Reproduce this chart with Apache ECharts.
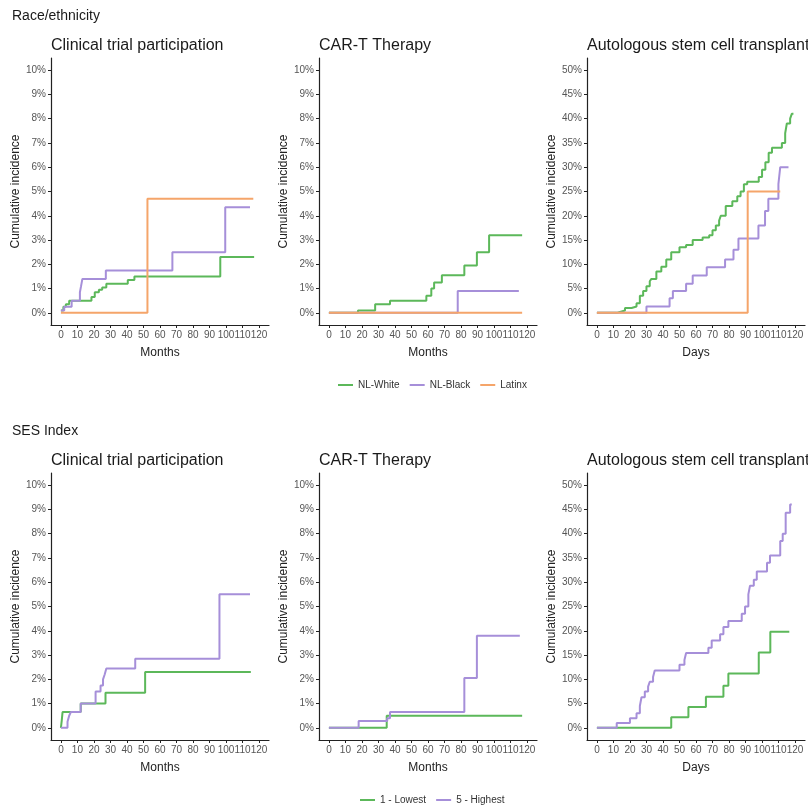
<!DOCTYPE html>
<html>
<head>
<meta charset="utf-8">
<script src="https://cdn.jsdelivr.net/npm/echarts@6/dist/echarts.min.js"></script>
<style>
    html, body { margin: 0; padding: 0; background: #fff; }
    #chart { width: 808px; height: 808px; }
</style>
</head>
<body>
<div id="chart"></div>
<script>
    // [time, cumulative incidence %] - value holds until the next time
    var raceTrialWhite = [[0, 0.1], [1.5, 0.25], [3, 0.35], [5, 0.5], [18.5, 0.65], [20.5, 0.85], [23, 0.95], [25, 1.05], [27.5, 1.2], [40.5, 1.35], [44.5, 1.5], [96.5, 2.3], [117, 2.3]];
    var raceTrialBlack = [[0, 0.1], [2, 0.25], [6.5, 0.5], [11.5, 0.85], [12.2, 1.1], [13, 1.4], [27.2, 1.75], [67.5, 2.5], [99.5, 4.35], [114.5, 4.35]];
    var raceTrialLatinx = [[0, 0], [52.4, 4.7], [116.5, 4.7]];

    var raceCarWhite = [[0, 0], [17.6, 0.1], [28, 0.35], [37, 0.5], [59, 0.7], [62, 1.0], [63.7, 1.25], [68.4, 1.55], [82, 1.95], [89.6, 2.5], [97, 3.2], [117, 3.2]];
    var raceCarBlack = [[0, 0], [78, 0.9], [115, 0.9]];
    var raceCarLatinx = [[0, 0], [117, 0]];

    var raceAsctWhite = [[0, 0], [12, 0.2], [14, 0.5], [17, 1.0], [21, 1.3], [24, 2.0], [26, 3.5], [28, 4.5], [30, 5.5], [32, 6.5], [33, 7], [36, 8.5], [39, 9.5], [42, 11], [45, 12.5], [50, 13.5], [54, 14], [58, 15], [64, 15.5], [68, 16], [70, 17], [72, 18], [74, 19], [75, 20], [78, 22], [82, 23], [85, 24], [87, 25], [89, 26.5], [91, 27], [98, 28], [100, 29.5], [102, 31], [104, 33], [106, 34], [112, 35], [114, 37], [115, 39], [117, 40], [118, 41], [119, 41]];
    var raceAsctBlack = [[0, 0], [30, 1.3], [44, 3], [46, 4.5], [54, 6], [58, 7.7], [66.5, 9.4], [77.6, 11], [82.7, 13], [85.7, 15.3], [97.8, 18], [101.8, 21], [103.8, 23.5], [109.9, 26.5], [111, 30], [116, 30]];
    var raceAsctLatinx = [[0, 0], [91.3, 25], [111, 25]];

    var sesTrialLow = [[0, 0], [0.5, 0.3], [1, 0.65], [12, 1.0], [27, 1.45], [51, 2.3], [115, 2.3]];
    var sesTrialHigh = [[0, 0], [4, 0.25], [5, 0.5], [6, 0.65], [12, 1.0], [21, 1.5], [24, 1.75], [25.5, 2.0], [26.5, 2.2], [27.5, 2.45], [45, 2.85], [96, 5.5], [114.5, 5.5]];

    var sesCarLow = [[0, 0], [35, 0.5], [117, 0.5]];
    var sesCarHigh = [[0, 0], [18, 0.28], [35.3, 0.4], [37, 0.65], [82, 2.05], [89.6, 3.8], [115.6, 3.8]];

    var sesAsctLow = [[0, 0], [45, 2.2], [55.4, 4.3], [66, 6.4], [76.6, 8.7], [79.6, 11.2], [98, 15.5], [105, 19.8], [116.5, 19.8]];
    var sesAsctHigh = [[0, 0], [12, 1], [20, 2], [24, 3], [26, 4.5], [27, 6.3], [29, 7.5], [31, 8.5], [32, 9.5], [34, 10.5], [35, 11.8], [50, 13], [53, 14], [54, 15.4], [67.5, 16.5], [69.5, 18], [74.6, 19.3], [76.6, 20.8], [79.6, 22], [87.7, 23.5], [89.7, 25], [91.7, 27.5], [92.7, 29.3], [95, 30.5], [96.8, 32.2], [103, 34], [104.8, 35.5], [111, 38.5], [112.5, 40], [114.3, 44.3], [117, 46], [118, 46]];

    var xTicks = [0, 10, 20, 30, 40, 50, 60, 70, 80, 90, 100, 110, 120];
    var yTicksSmall = [0, 1, 2, 3, 4, 5, 6, 7, 8, 9, 10];
    var yTicksLarge = [0, 5, 10, 15, 20, 25, 30, 35, 40, 45, 50];

    var panelTitles = ['Clinical trial participation', 'CAR-T Therapy', 'Autologous stem cell transplant'];
    var raceNames = ['NL-White', 'NL-Black', 'Latinx'];
    var sesNames = ['1 - Lowest', '5 - Highest'];

    var GREEN = '#5cb85a';
    var PURPLE = '#a68fd9';
    var ORANGE = '#f5a56a';
    var FONT = '"Liberation Sans", Arial, sans-serif';

    var lefts = [51, 319, 587];
    var tops = [58, 473];

    var grids = [], xAxes = [], yAxes = [], series = [], graphics = [];

    function axisBase() {
        return {
            type: 'value',
            splitLine: { show: false },
            axisLine: { show: true, onZero: false, lineStyle: { color: '#222', width: 1.2 } },
            axisTick: { show: true, length: 3, lineStyle: { color: '#222' } },
            axisLabel: { color: '#555', fontSize: 10, fontFamily: FONT },
            nameTextStyle: { color: '#222', fontSize: 12, fontFamily: FONT }
        };
    }

    function addPanel(row, col, xName, big) {
        var idx = grids.length;
        grids.push({ left: lefts[col], top: tops[row], width: 218, height: 267 });

        var xa = axisBase();
        xa.gridIndex = idx;
        xa.min = -6;
        xa.max = 126;
        xa.axisTick.customValues = xTicks;
        xa.axisLabel.customValues = xTicks;
        xa.axisLabel.margin = 5;
        xa.name = xName;
        xa.nameLocation = 'middle';
        xa.nameGap = 22;
        xAxes.push(xa);

        var ticks = big ? yTicksLarge : yTicksSmall;
        var top = big ? 50 : 10;
        var ya = axisBase();
        ya.gridIndex = idx;
        ya.min = -top * 0.05;
        ya.max = top * 1.05;
        ya.axisTick.customValues = ticks;
        ya.axisLabel.customValues = ticks;
        ya.axisLabel.formatter = '{value}%';
        ya.axisLabel.margin = 5;
        ya.name = 'Cumulative incidence';
        ya.nameLocation = 'middle';
        ya.nameGap = 25;
        yAxes.push(ya);

        graphics.push({
            type: 'text', left: lefts[col], top: tops[row] - 20,
            style: { text: panelTitles[col], font: '16px ' + FONT, fill: '#1a1a1a' }
        });
        return idx;
    }

    function addLine(idx, name, data, color) {
        series.push({
            name: name,
            type: 'line',
            step: 'end',
            xAxisIndex: idx,
            yAxisIndex: idx,
            showSymbol: false,
            symbol: 'none',
            data: data,
            lineStyle: { color: color, width: 2 },
            itemStyle: { color: color }
        });
    }

    var p;
    p = addPanel(0, 0, 'Months', false);
    addLine(p, raceNames[0], raceTrialWhite, GREEN);
    addLine(p, raceNames[1], raceTrialBlack, PURPLE);
    addLine(p, raceNames[2], raceTrialLatinx, ORANGE);

    p = addPanel(0, 1, 'Months', false);
    addLine(p, raceNames[0], raceCarWhite, GREEN);
    addLine(p, raceNames[1], raceCarBlack, PURPLE);
    addLine(p, raceNames[2], raceCarLatinx, ORANGE);

    p = addPanel(0, 2, 'Days', true);
    addLine(p, raceNames[0], raceAsctWhite, GREEN);
    addLine(p, raceNames[1], raceAsctBlack, PURPLE);
    addLine(p, raceNames[2], raceAsctLatinx, ORANGE);

    p = addPanel(1, 0, 'Months', false);
    addLine(p, sesNames[0], sesTrialLow, GREEN);
    addLine(p, sesNames[1], sesTrialHigh, PURPLE);

    p = addPanel(1, 1, 'Months', false);
    addLine(p, sesNames[0], sesCarLow, GREEN);
    addLine(p, sesNames[1], sesCarHigh, PURPLE);

    p = addPanel(1, 2, 'Days', true);
    addLine(p, sesNames[0], sesAsctLow, GREEN);
    addLine(p, sesNames[1], sesAsctHigh, PURPLE);

    graphics.push({
        type: 'text', left: 12, top: 9,
        style: { text: 'Race/ethnicity', font: '14px ' + FONT, fill: '#1a1a1a' }
    });
    graphics.push({
        type: 'text', left: 12, top: 424,
        style: { text: 'SES Index', font: '14px ' + FONT, fill: '#1a1a1a' }
    });

    var legendBase = {
        icon: 'rect',
        itemWidth: 15,
        itemHeight: 2,
        itemGap: 10,
        textStyle: { color: '#333', fontSize: 10, fontFamily: FONT },
        selectedMode: false
    };

    var myChart = echarts.init(document.getElementById('chart'));
    var option = {
        backgroundColor: '#fff',
        animation: false,
        grid: grids,
        xAxis: xAxes,
        yAxis: yAxes,
        series: series,
        graphic: graphics,
        legend: [
            Object.assign({}, legendBase, { data: raceNames, left: 333, top: 375 }),
            Object.assign({}, legendBase, { data: sesNames, left: 355, top: 790 })
        ]
    };
    myChart.setOption(option);
</script>
</body>
</html>
